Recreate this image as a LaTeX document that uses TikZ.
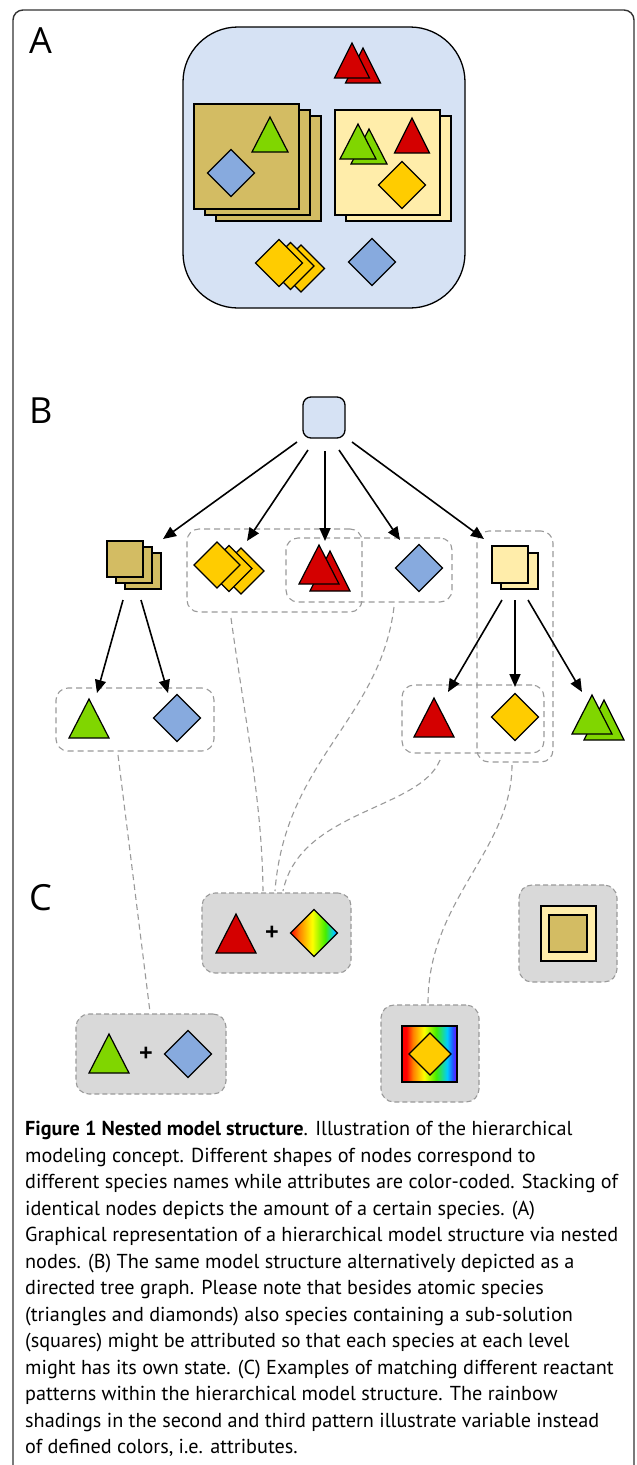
\documentclass[tikz,border=0pt]{standalone}
\usepackage{fontspec}
\setmainfont{Open Sans}
\newfontfamily\capfont{PT Sans}
\usetikzlibrary{arrows.meta}
\definecolor{lblue}{HTML}{D6E2F4}
\definecolor{stan}{HTML}{D3BC63}
\definecolor{lyel}{HTML}{FFEDAA}
\definecolor{sgreen}{HTML}{80D600}
\definecolor{sred}{HTML}{D40000}
\definecolor{syel}{HTML}{FFCC00}
\definecolor{sblue}{HTML}{87AADE}
\definecolor{pgray}{HTML}{D9D9D9}
\definecolor{dgray}{HTML}{9A9A9A}
\definecolor{framec}{HTML}{333333}
\definecolor{rbred}{HTML}{FF0000}
\definecolor{rbor}{HTML}{FF8000}
\definecolor{rbyel}{HTML}{FFFF00}
\definecolor{rbgreen}{HTML}{44EE00}
\definecolor{rbcyan}{HTML}{00CCFF}
\definecolor{rbblue}{HTML}{2255FF}
\definecolor{rbviolet}{HTML}{7F00FF}
\pgfdeclarehorizontalshading{rbdia}{100bp}{color(0bp)=(rbred); color(25bp)=(rbred); color(34bp)=(rbor); color(48bp)=(rbyel); color(62bp)=(rbgreen); color(71bp)=(rbcyan); color(75bp)=(rbblue); color(100bp)=(rbblue)}
\pgfdeclarehorizontalshading{rbsq}{100bp}{color(0bp)=(rbred); color(25bp)=(rbred); color(29bp)=(rbred); color(35bp)=(rbor); color(45bp)=(rbyel); color(56bp)=(rbgreen); color(66bp)=(rbcyan); color(71bp)=(rbblue); color(75bp)=(rbviolet); color(100bp)=(rbviolet)}
\tikzset{
  shp/.style={draw=black, line width=1.2pt, line join=miter},
  grp/.style={draw=dgray, dash pattern=on 6pt off 4pt, line width=1.1pt, rounded corners=12pt, inner sep=0pt},
  pbox/.style={draw=dgray, fill=pgray, dash pattern=on 5pt off 3pt, line width=1.1pt, rounded corners=13pt, inner sep=0pt},
  link/.style={draw=dgray, dash pattern=on 6pt off 4pt, line width=1.1pt},
  arr/.style={-{Triangle[length=13pt,width=11pt]}, line width=1.6pt},
  lbl/.style={font=\fontsize{36}{36}\selectfont, anchor=base west, inner sep=0pt},
  plus/.style={font=\fontsize{24}{24}\selectfont\bfseries, inner sep=0pt},
}
\newcommand\mytri[5]{\filldraw[shp, fill=#1] (#2,#3) -- ++({#4/2},#5) -- ++(-#4,0) -- cycle;}
\newcommand\mydia[4]{\filldraw[shp, fill=#1, shift={(#2,#3)}] (-#4,0) -- (0,-#4) -- (#4,0) -- (0,#4) -- cycle;}
\newcommand\mysq[5]{\filldraw[shp, fill=#1] (#2,#3) rectangle ++(#4,#5);}
\begin{document}
\begin{tikzpicture}[x=1pt,y=-1pt]
\useasboundingbox (0,0) rectangle (637,1465);
\fill[white] (0,0) rectangle (637,1465);
% frame
\draw[framec, line width=1.4pt, rounded corners=10pt] (13,1475) -- (13,10) -- (634,10) -- (634,1475);
% labels
\node[lbl] (lA) at (29,53) {A};
\node[lbl] (lB) at (29,423) {B};
\node[lbl] (lC) at (29,910) {C};

% ---------- Part A ----------
\node[draw=black, fill=lblue, line width=1.3pt, rounded corners=55pt, minimum width=282, minimum height=281, inner sep=0pt] (Abox) at (324,167.5) {};
\mytri{sred}{363}{48}{35}{35}
\mytri{sred}{352}{43}{35}{35}
\mysq{stan}{216}{116}{105}{105}
\mysq{stan}{205}{110}{105}{105}
\mysq{stan}{194}{104}{105}{105}
\mytri{sgreen}{270}{117}{36}{35}
\mydia{sblue}{231}{173}{23.5}
\mysq{lyel}{346}{116}{105}{105}
\mysq{lyel}{335}{110}{105}{105}
\mytri{sgreen}{369}{129}{36}{35}
\mytri{sgreen}{358}{124}{36}{35}
\mytri{sred}{412}{118}{35}{35}
\mydia{syel}{402}{185}{23.5}
\mydia{syel}{301}{268.5}{23.5}
\mydia{syel}{290.5}{266}{23.5}
\mydia{syel}{279}{263}{23.5}
\mydia{sblue}{372}{262}{23.5}

% ---------- Part B ----------
\node[draw=black, fill=lblue, line width=1.3pt, rounded corners=8pt, minimum width=42, minimum height=41, inner sep=0pt] (root) at (324,417.5) {};
\node[grp, minimum width=175, minimum height=83] (g1) at (274.5,570.5) {};
\node[grp, minimum width=166, minimum height=64] (g2) at (369,570) {};
\node[grp, minimum width=76, minimum height=231] (g3) at (515,646.5) {};
\node[grp, minimum width=158, minimum height=63] (g4) at (135,719.5) {};
\node[grp, minimum width=142, minimum height=68] (g5) at (473,719) {};

\mysq{stan}{125}{553}{36}{36}
\mysq{stan}{116}{547}{36}{36}
\mysq{stan}{107}{541}{36}{36}
\mydia{syel}{241}{571}{23}
\mydia{syel}{229}{568.5}{23}
\mydia{syel}{217}{565}{23}
\mytri{sred}{330}{551}{40}{40}
\mytri{sred}{319}{545}{40}{39}
\mydia{sblue}{419}{568}{23.5}
\mysq{lyel}{501}{553}{37}{36}
\mysq{lyel}{492}{546}{36}{37}
\mytri{sgreen}{89}{699}{40}{39}
\mydia{sblue}{177}{718}{23.5}
\mytri{sred}{434}{698}{40}{39}
\mydia{syel}{515}{717}{23.5}
\mytri{sgreen}{604}{700}{40}{40}
\mytri{sgreen}{592}{695}{40}{39}

% arrow end points
\coordinate (a1s) at (297,442); \coordinate (a1e) at (163,539);
\coordinate (a2s) at (308,450); \coordinate (a2e) at (247,541);
\coordinate (a3s) at (325,451); \coordinate (a3e) at (325,541);
\coordinate (a4s) at (339,450); \coordinate (a4e) at (400,540);
\coordinate (a5s) at (352,442); \coordinate (a5e) at (484,539);
\coordinate (a6s) at (123,600); \coordinate (a6e) at (97,693);
\coordinate (a7s) at (141,600); \coordinate (a7e) at (168,693);
\coordinate (a8s) at (502,600); \coordinate (a8e) at (448,692);
\coordinate (a9s) at (515,600); \coordinate (a9e) at (515,687);
\coordinate (a10s) at (528,600); \coordinate (a10e) at (582,692);
\foreach \i in {1,...,10} {\draw[arr] (a\i s) -- (a\i e);}

% ---------- dashed links ----------
\coordinate (l1s) at (118,755); \coordinate (l1e) at (150,1012);
\coordinate (l2s) at (231,618); \coordinate (l2e) at (263,891);
\coordinate (l3s) at (394,607); \coordinate (l3e) at (275,891);
\coordinate (l4s) at (440,760); \coordinate (l4e) at (283,891);
\coordinate (l5s) at (512,765); \coordinate (l5e) at (428,1003);
\draw[link] (l1s) -- (l1e);
\draw[link] (l2s) .. controls (245,720) and (262,800) .. (l2e);
\draw[link] (l3s) .. controls (380,720) and (285,760) .. (l3e);
\draw[link] (l4s) .. controls (420,810) and (300,810) .. (l4e);
\draw[link] (l5s) .. controls (512,850) and (428,900) .. (l5e);

% ---------- Part C ----------
\node[pbox, minimum width=149, minimum height=80] (c1) at (276.5,933) {};
\node[pbox, minimum width=150, minimum height=80] (c2) at (151,1054) {};
\node[pbox, minimum width=98, minimum height=97] (c3) at (430,1053.5) {};
\node[pbox, minimum width=98, minimum height=97] (c4) at (568,933.5) {};

\mytri{sred}{236}{914}{40}{39}
\node[plus] (p1) at (272,933) {+};
\shadedraw[shp, shading=rbdia, shift={(314,933)}] (-23.5,0) -- (0,-23.5) -- (23.5,0) -- (0,23.5) -- cycle;

\mytri{sgreen}{109}{1034}{40}{39}
\node[plus] (p2) at (146,1054) {+};
\mydia{sblue}{188}{1054}{23.5}

\shadedraw[shp, shading=rbsq] (402,1026) rectangle (457,1082);
\mydia{syel}{430}{1054}{21}

\mysq{lyel}{541}{906}{55}{55}
\mysq{stan}{549}{915}{38}{37}

% ---------- caption ----------
\node[anchor=north west, inner sep=0pt, align=left, font=\capfont\fontsize{20.2}{26.5}\selectfont] (cap) at (25,1121) {%
\textbf{Figure 1 Nested model structure}. Illustration of the hierarchical\\
modeling concept. Different shapes of nodes correspond to\\
different species names while attributes are color-coded. Stacking of\\
identical nodes depicts the amount of a certain species. (A)\\
Graphical representation of a hierarchical model structure via nested\\
nodes. (B) The same model structure alternatively depicted as a\\
directed tree graph. Please note that besides atomic species\\
(triangles and diamonds) also species containing a sub-solution\\
(squares) might be attributed so that each species at each level\\
might has its own state. (C) Examples of matching different reactant\\
patterns within the hierarchical model structure. The rainbow\\
shadings in the second and third pattern illustrate variable instead\\
of defined colors, i.e. attributes.};
\end{tikzpicture}
\end{document}
